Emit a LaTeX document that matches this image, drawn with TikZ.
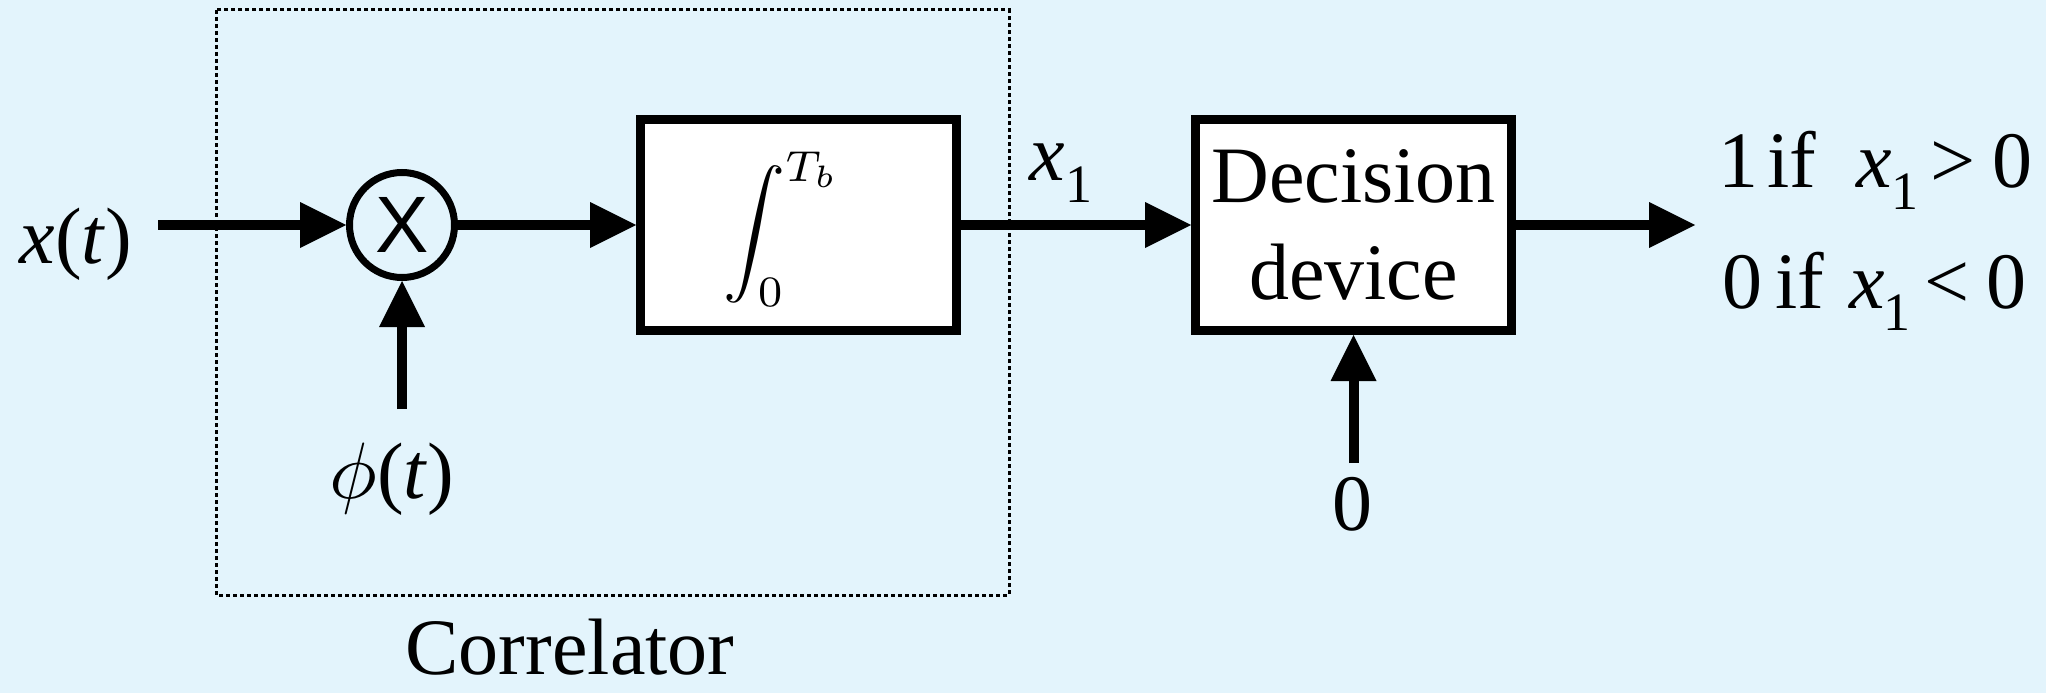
\documentclass[tikz,border=0pt]{standalone}
\usepackage{graphicx}
\usepackage{fontspec}
\setmainfont{Liberation Serif}
\newfontfamily\sansX{Liberation Sans}
\usetikzlibrary{arrows.meta}
\definecolor{bgc}{RGB}{227,244,252}
\tikzset{
  lbl/.style={font=\fontsize{80}{97}\selectfont, inner sep=0pt},
  blk/.style={draw, line width=9pt, fill=white, minimum width=316pt, minimum height=211pt, inner sep=0pt, font=\fontsize{80}{97}\selectfont, align=center},
  mult/.style={draw, circle, line width=7pt, minimum size=105pt, inner sep=0pt, font=\sansX\fontsize{80}{80}\selectfont},
  arr/.style={line width=10pt, -{Triangle[length=46pt,width=46pt,line width=0pt]}},
  frame/.style={line width=3pt, dash pattern=on 4pt off 3pt},
}
\newcommand{\subone}{\raisebox{-22pt}{\fontsize{54}{54}\selectfont 1}}
\newcommand{\bigphi}{{\normalsize\scalebox{8}{$\phi$}}}
\begin{document}
\begin{tikzpicture}[x=1pt,y=-1pt]
\fill[bgc] (0,0) rectangle (2046,693);
\useasboundingbox (0,0) rectangle (2046,693);
\draw[frame] (216,10) rectangle (1009,595);
\node[mult] (mul) at (402,225) {X};
\node[blk] (int) at (798.5,225) {};
\node[inner sep=0pt] (intsym) at (782,229) {\normalsize\scalebox{6.2}{$\displaystyle\int_0^{T_b}$}};
\node[blk] (dec) at (1353.5,225) {Decision\\device};
\node[lbl, anchor=base] (xt) at (76,263) {\textit{x}(\textit{t})};
\node[lbl, anchor=base] (phit) at (392,498) {\bigphi(\textit{t})};
\node[lbl, anchor=base] (x1) at (1061,180) {\textit{x}\subone};
\node[lbl, anchor=base west] (o1) at (1718,187) {1\hspace{9pt}if\hspace{40pt}\textit{x}\subone\hspace{12pt}>\hspace{17pt}0};
\node[lbl, anchor=base west] (o2) at (1722,308) {0\hspace{13pt}if\hspace{25pt}\textit{x}\hspace{-1pt}\subone\hspace{14pt}<\hspace{17pt}0};
\node[lbl, anchor=base] (zero) at (1352,530) {0};
\node[lbl, anchor=base] (corr) at (570,674) {Correlator};
\coordinate (xin) at (158,225);
\coordinate (phin) at (402,409);
\coordinate (zin) at (1353.5,463);
\coordinate (yout) at (1695,225);
\draw[arr] (xin) -- (mul);
\draw[arr] (phin) -- (mul);
\draw[arr] (mul) -- (int);
\draw[arr] (int) -- (dec);
\draw[arr] (zin) -- (dec);
\draw[arr] (dec) -- (yout);
\end{tikzpicture}
\end{document}
